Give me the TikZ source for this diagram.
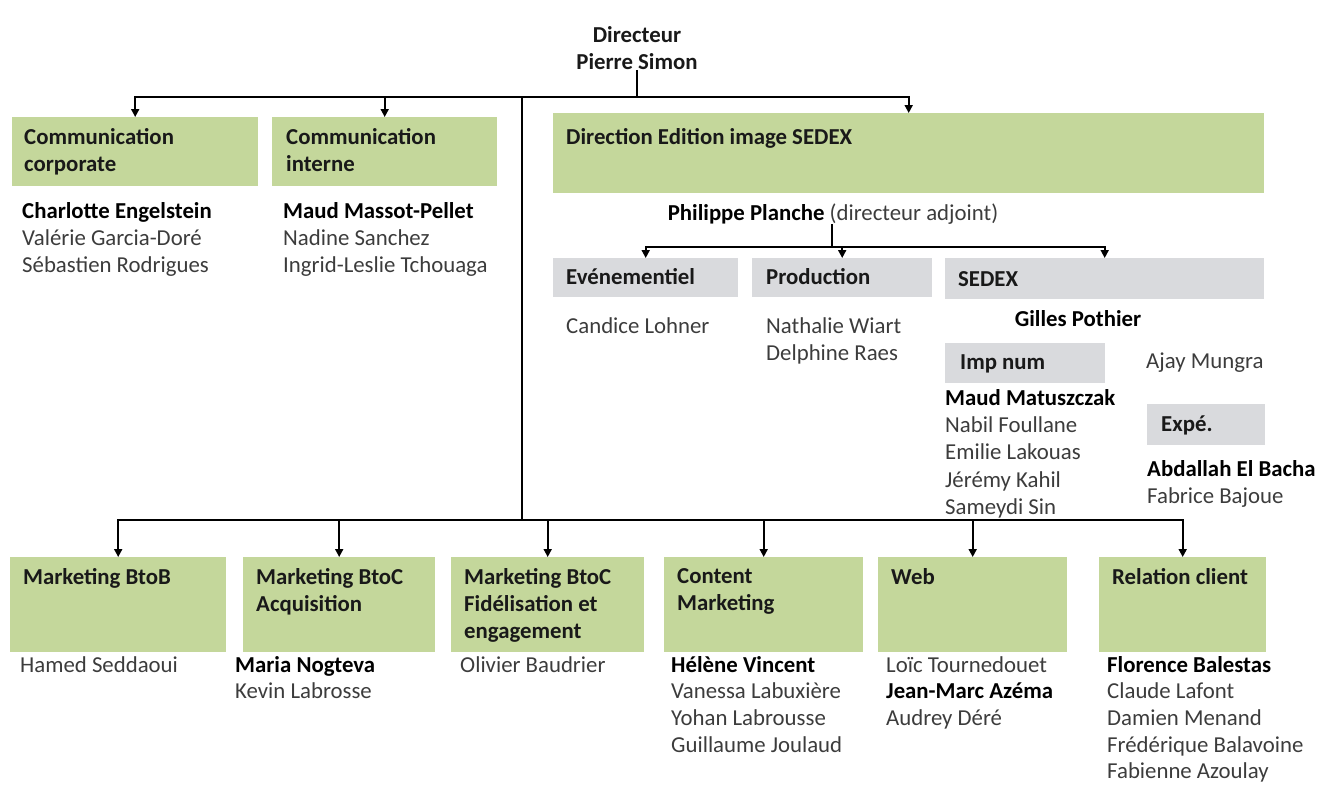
\documentclass[tikz,border=0pt]{standalone}
\usepackage{fontspec}
\setmainfont{Carlito}
\usepackage{tikz}
\usetikzlibrary{positioning}
\usetikzlibrary{arrows.meta}
\definecolor{boxgreen}{RGB}{196,215,155}
\definecolor{boxgrey}{RGB}{217,218,221}
\definecolor{nametext}{RGB}{60,60,60}
\newcommand{\chartfont}{\fontsize{22.8}{27.3}\selectfont}
\newcommand{\boss}[1]{{\color{black}\bfseries #1}}
\tikzstyle{greenbox}=[rectangle,fill=boxgreen,draw=none,anchor=north west,inner sep=0pt]
\tikzstyle{greybox}=[rectangle,fill=boxgrey,draw=none,anchor=north west,inner sep=0pt]
\tikzstyle{boxtitle}=[anchor=north west,inner sep=0pt,align=left,font=\chartfont\bfseries,text=black!90]
\tikzstyle{namelist}=[anchor=north west,inner sep=0pt,align=left,font=\chartfont,text=nametext]
\tikzstyle{bus}=[draw,line width=1.8pt]
\tikzstyle{edge}=[draw,line width=1.8pt,-{Triangle[width=8pt,length=8pt]}]

\begin{document}
\begin{tikzpicture}[x=1pt,y=-1pt]
    \useasboundingbox (0,0) rectangle (1317,785);

    % director and top level
    \node[boxtitle,anchor=center,align=center] (dir) at (637,48) {Directeur\\Pierre Simon};
    \coordinate (top) at (637,97);
    \coordinate (trunk) at (522,97);
    \coordinate (hub) at (522,520);

    \node[greenbox,minimum width=246,minimum height=69] (cc) at (12,117) {};
    \node[greenbox,minimum width=225,minimum height=69] (ci) at (272,117) {};
    \node[greenbox,minimum width=711,minimum height=80] (ded) at (553,113) {};
    \node[boxtitle] (cct) at (24,128) {Communication\\corporate};
    \node[boxtitle] (cit) at (286,128) {Communication\\interne};
    \node[boxtitle] (dedt) at (566,128) {Direction Edition image SEDEX};
    \node[namelist] (ccn) at (22,202) {\boss{Charlotte Engelstein}\\Valérie Garcia-Doré\\Sébastien Rodrigues};
    \node[namelist] (cin) at (283,202) {\boss{Maud Massot-Pellet}\\Nadine Sanchez\\Ingrid-Leslie Tchouaga};

    \path[bus] (dir.south) -- (top);
    \path[edge] (top) -| (cc.north);
    \path[edge] (top) -| (ci.north);
    \path[edge] (top) -| (ded.north);
    \path[bus] (trunk) -- (hub);

    % Direction Edition image SEDEX
    \node[namelist,anchor=center] (ph) at (833,214) {\boss{Philippe Planche} (directeur adjoint)};
    \coordinate (sub) at (832,247);
    \node[greybox,minimum width=185,minimum height=39] (ev) at (553,258) {};
    \node[greybox,minimum width=180,minimum height=39] (pr) at (752,258) {};
    \node[greybox,minimum width=319,minimum height=41] (sx) at (945,258) {};
    \node[boxtitle] (evt) at (566,268) {Evénementiel};
    \node[boxtitle] (prt) at (766,268) {Production};
    \node[boxtitle] (sxt) at (958,271) {SEDEX};
    \path[bus] (ph.south -| sub) -- (sub);
    \foreach \dest in {ev,pr,sx}
        \path[edge] (sub) -| (\dest.north);

    \node[namelist] (evn) at (566,317) {Candice Lohner};
    \node[namelist] (prn) at (766,317) {Nathalie Wiart\\Delphine Raes};
    \node[namelist,anchor=center] (gp) at (1078,319) {\boss{Gilles Pothier}};
    \node[greybox,minimum width=160,minimum height=40] (imp) at (945,343) {};
    \node[boxtitle] (impt) at (960,355) {Imp num};
    \node[namelist] (ajay) at (1146,353) {Ajay Mungra};
    \node[namelist] (impn) at (945,389) {\boss{Maud Matuszczak}\\Nabil Foullane\\Emilie Lakouas\\Jérémy Kahil\\Sameydi Sin};
    \node[greybox,minimum width=118,minimum height=41] (exp) at (1147,404) {};
    \node[boxtitle] (expt) at (1161,416) {Expé.};
    \node[namelist] (expn) at (1147,460) {\boss{Abdallah El Bacha}\\Fabrice Bajoue};

    % bottom row
    \foreach \name/\x/\w/\title/\nx/\people in {
        b1/10/216/{Marketing BtoB}/20/{Hamed Seddaoui},
        b2/243/192/{Marketing BtoC\\Acquisition}/235/{\boss{Maria Nogteva}\\Kevin Labrosse},
        b3/451/193/{Marketing BtoC\\Fidélisation et\\engagement}/460/{Olivier Baudrier},
        b4/664/199/{Content\\Marketing}/671/{\boss{Hélène Vincent}\\Vanessa Labuxière\\Yohan Labrousse\\Guillaume Joulaud},
        b5/878/189/{Web}/886/{Loïc Tournedouet\\\boss{Jean-Marc Azéma}\\Audrey Déré},
        b6/1099/167/{Relation client}/1107/{\boss{Florence Balestas}\\Claude Lafont\\Damien Menand\\Frédérique Balavoine\\Fabienne Azoulay}}
    {
        \node[greenbox,minimum width=\w,minimum height=95] (\name) at (\x,557) {};
        \node[boxtitle] (\name t) at (\x+13,568) {\title};
        \node[namelist,font=\fontsize{22.8}{26.6}\selectfont] (\name n) at (\nx,656) {\people};
        \path[edge] (hub) -| (\name.north);
    }
\end{tikzpicture}
\end{document}
